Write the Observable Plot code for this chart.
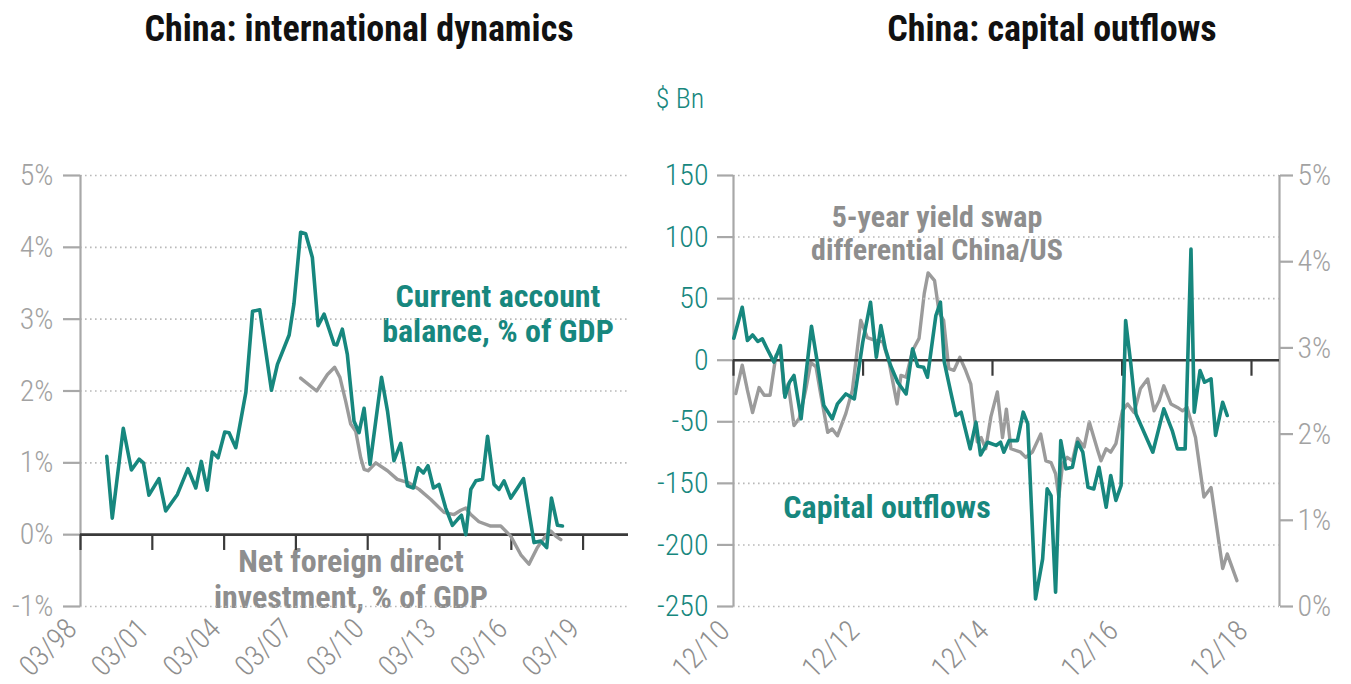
<!DOCTYPE html>
<html>
<head>
<meta charset="utf-8">
<script src="https://cdn.jsdelivr.net/npm/d3@7"></script>
<script src="https://cdn.jsdelivr.net/npm/@observablehq/plot@0.6"></script>
<style>
  html, body { margin: 0; padding: 0; background: #fff; }
  #root { position: relative; width: 1351px; height: 684px; overflow: hidden; background: #fff;
          font-family: "Roboto Condensed", Roboto, sans-serif; font-stretch: condensed; }
  .abs { position: absolute; white-space: nowrap; }
  .title { font-weight: bold; font-size: 36px; color: #111; line-height: 1; transform: translateX(-50%); }
  .ann { font-weight: bold; font-size: 32px; text-align: center; transform: translateX(-50%); }
  .teal { color: #17877e; }
  .gray { color: #8e8e8e; }
  svg { position: absolute; }
</style>
</head>
<body>
<div id="root">
  <div class="abs title" style="left:359px; top:11px;">China: international dynamics</div>
  <div class="abs title" style="left:1052px; top:11px;">China: capital outflows</div>
  <div class="abs teal" style="left:680px; top:85px; font-size:28px; font-weight:300; transform:translateX(-50%); line-height:1;">$ Bn</div>
  <div class="abs ann teal" style="left:498px; top:279px; line-height:35px;">Current account<br>balance, % of GDP</div>
  <div class="abs ann gray" style="left:351px; top:543px; line-height:36px;">Net foreign direct<br>investment, % of GDP</div>
  <div class="abs ann gray" style="left:937px; top:200px; line-height:33px; font-size:30px;">5-year yield swap<br>differential China/US</div>
  <div class="abs ann teal" style="left:887px; top:489px; line-height:36px;">Capital outflows</div>
</div>
<script>
// ---------- data ----------
// Left chart: current account balance, % of GDP (decimal year, value)
const caYears = [1999.26,1999.49,1999.95,2000.29,2000.61,2000.79,2001.02,2001.44,2001.72,2002.21,
  2002.65,2002.98,2003.21,2003.46,2003.67,2003.91,2004.19,2004.37,2004.65,2005.07,
  2005.35,2005.65,2006.14,2006.39,2006.88,2007.08,2007.36,2007.57,2007.85,2008.09,
  2008.34,2008.76,2008.87,2009.10,2009.31,2009.59,2009.80,2010.01,2010.26,2010.74,
  2010.99,2011.26,2011.54,2011.82,2012.07,2012.27,2012.49,2012.68,2012.91,2013.14,
  2013.42,2013.70,2013.91,2014.08,2014.26,2014.47,2014.68,2014.96,2015.17,2015.44,
  2015.65,2015.86,2016.14,2016.42,2016.67,2017.11,2017.39,2017.64,2017.84,2018.09,2018.30];
const caValues = [1.09,0.23,1.48,0.90,1.05,1.00,0.55,0.78,0.33,0.56,
  0.92,0.65,1.02,0.62,1.15,1.07,1.43,1.42,1.21,1.98,
  3.11,3.13,2.01,2.37,2.78,3.21,4.21,4.19,3.86,2.91,
  3.07,2.65,2.64,2.86,2.51,1.58,1.42,1.76,0.98,2.19,
  1.72,1.03,1.27,0.68,0.65,0.93,0.86,0.96,0.65,0.70,
  0.37,0.13,0.21,0.27,0.00,0.63,0.75,0.77,1.37,0.70,
  0.63,0.75,0.51,0.65,0.78,-0.11,-0.09,-0.18,0.51,0.13,0.12];
// Left chart: net foreign direct investment, % of GDP
const fdiYears = [2007.36,2008.03,2008.48,2008.78,2009.00,2009.24,2009.45,2009.66,2009.87,2010.01,
  2010.18,2010.50,2010.99,2011.40,2011.89,2012.31,2012.80,2013.35,2013.77,2014.05,
  2014.26,2014.47,2014.81,2015.30,2015.72,2016.14,2016.56,2016.90,2017.25,2017.60,
  2017.81,2018.02,2018.23];
const fdiValues = [2.18,2.00,2.23,2.33,2.19,1.86,1.54,1.44,1.07,0.91,
  0.89,1.00,0.89,0.77,0.72,0.63,0.49,0.31,0.28,0.34,
  0.37,0.28,0.18,0.12,0.12,-0.02,-0.28,-0.41,-0.18,-0.02,
  0.05,-0.02,-0.07];
// Right chart: capital outflows, $ Bn
const coYears = [2010.92,2011.05,2011.13,2011.21,2011.29,2011.36,2011.44,2011.54,2011.64,2011.71,
  2011.78,2011.85,2011.96,2012.03,2012.12,2012.21,2012.31,2012.44,2012.52,2012.65,
  2012.78,2012.91,2013.03,2013.12,2013.19,2013.26,2013.34,2013.45,2013.58,2013.68,
  2013.76,2013.85,2013.91,2014.04,2014.11,2014.17,2014.27,2014.35,2014.43,2014.57,
  2014.66,2014.73,2014.84,2014.97,2015.04,2015.09,2015.17,2015.30,2015.39,2015.46,
  2015.58,2015.69,2015.76,2015.82,2015.89,2015.97,2016.05,2016.15,2016.23,2016.31,
  2016.39,2016.48,2016.56,2016.67,2016.74,2016.82,2016.90,2016.97,2017.05,2017.13,
  2017.39,2017.56,2017.69,2017.77,2017.89,2017.98,2018.03,2018.12,2018.19,2018.29,
  2018.36,2018.47,2018.54];
const coValues = [17.9,43.0,16.0,20.5,15.2,17.3,8.7,-1.6,11.9,-30,
  -17.9,-12.4,-47.6,-13.8,27.6,-1.6,-36.8,-47.6,-35.5,-27.4,
  -31.4,14.6,47.1,2.4,28.2,9.2,-4.3,-17.9,-27.4,9.2,
  -4.9,-5.7,-13.8,36.3,47.1,-1.6,-26,-44.9,-42.2,-72,
  -50.3,-77,-66.6,-69.2,-66.6,-74.7,-65.3,-65.3,-42.2,-51.7,
  -193.8,-161.3,-104.5,-109.9,-188.3,-65.3,-88.2,-86.9,-66.6,-74.7,
  -103.1,-104.5,-86.9,-119.3,-93.6,-113.9,-101.7,32.2,-3.0,-43.6,
  -74.7,-39.5,-57.1,-72,-72,90.3,-42.2,-8.4,-17.9,-15.2,
  -61.1,-34.1,-44.9];
// Right chart: 5-year yield swap differential China/US, %
const ydYears = [2010.95,2011.05,2011.13,2011.21,2011.31,2011.39,2011.48,2011.57,2011.64,2011.70,
  2011.76,2011.85,2011.93,2012.03,2012.11,2012.19,2012.26,2012.37,2012.44,2012.52,
  2012.65,2012.75,2012.88,2012.98,2013.09,2013.22,2013.32,2013.44,2013.50,2013.58,
  2013.68,2013.78,2013.86,2013.92,2014.02,2014.09,2014.16,2014.24,2014.32,2014.41,
  2014.50,2014.58,2014.68,2014.74,2014.81,2014.89,2014.99,2015.07,2015.13,2015.20,
  2015.35,2015.43,2015.53,2015.66,2015.74,2015.82,2015.89,2015.94,2016.00,2016.07,
  2016.15,2016.23,2016.33,2016.41,2016.54,2016.59,2016.67,2016.74,2016.82,2016.92,
  2017.00,2017.10,2017.20,2017.31,2017.41,2017.49,2017.56,2017.67,2017.77,2017.85,
  2017.92,2018.05,2018.18,2018.29,2018.47,2018.54,2018.69];
const ydValues = [2.47,2.80,2.51,2.25,2.54,2.45,2.45,2.91,2.97,2.47,
  2.58,2.10,2.18,2.51,2.83,2.78,2.47,2.02,2.06,1.98,
  2.24,2.51,3.32,3.12,3.09,3.07,2.82,2.35,2.68,2.66,
  2.97,3.11,3.63,3.87,3.78,3.41,3.32,2.76,2.74,2.89,
  2.74,2.58,1.91,1.96,1.83,2.20,2.49,1.96,2.29,1.83,
  1.79,1.73,1.79,2.00,1.69,1.67,1.54,1.27,1.66,1.73,
  1.69,1.95,1.85,2.14,1.81,1.69,1.83,1.79,1.89,2.27,
  2.35,2.25,2.53,2.64,2.27,2.39,2.56,2.35,2.31,2.27,
  2.31,1.96,1.27,1.38,0.44,0.61,0.30];

// axes / ticks
const leftTickYears = [1998, 2001, 2004, 2007, 2010, 2013, 2016, 2019];
const leftTickLabels = ["03/98", "03/01", "03/04", "03/07", "03/10", "03/13", "03/16", "03/19"];
const leftYTicks = [5, 4, 3, 2, 1, 0, -1];
const leftYLabels = ["5%", "4%", "3%", "2%", "1%", "0%", "-1%"];
const rightTickYears = [2010, 2012, 2014, 2016, 2018];
const rightTickLabels = ["12/10", "12/12", "12/14", "12/16", "12/18"];
const coYTicks = [150, 100, 50, 0, -50, -100, -150, -200];
const coYLabels = ["150", "100", "50", "0", "-50", "-150", "-200", "-250"]; // as printed on the chart
const ydYTicks = [5, 4, 3, 2, 1, 0];
const ydYLabels = ["5%", "4%", "3%", "2%", "1%", "0%"];

// ---------- helpers ----------
const TEAL = "#17877e", GRAY = "#9b9b9b", DARK = "#3a3a3a", AXIS = "#a8a8a8", GRID = "#b9b9b9";
const toDate = y => { const yr = Math.floor(y); const a = Date.UTC(yr, 0, 1), b = Date.UTC(yr + 1, 0, 1); return new Date(a + (y - yr) * (b - a)); };
const series = (ys, vs) => ys.map((y, i) => ({date: toDate(y), value: vs[i]}));
const ca = series(caYears, caValues), fdi = series(fdiYears, fdiValues);
const co = series(coYears, coValues), yd = series(ydYears, ydValues);
const leftTicks = leftTickYears.map((y, i) => ({date: new Date(Date.UTC(y, 2, 1)), label: leftTickLabels[i]}));
const rightTicks = rightTickYears.map((y, i) => ({date: new Date(Date.UTC(y, 11, 1)), label: rightTickLabels[i]}));
const fmt = (ticks, labels) => d => labels[ticks.indexOf(d)];
const STYLE = {background: "transparent", fontFamily: '"Roboto Condensed", Roboto, sans-serif', fontStretch: "condensed", fontWeight: 300, overflow: "visible"};

const H = 534, MT = 25, MB = 78;
const root = document.getElementById("root");

// ---------- left chart ----------
const leftDomain = [new Date(Date.UTC(1998, 2, 1)), new Date(Date.UTC(2021, 0, 22))];
const left = Plot.plot({
  width: 640, height: H, marginLeft: 80, marginRight: 12, marginTop: MT, marginBottom: MB,
  style: STYLE,
  x: {type: "utc", domain: leftDomain, axis: null},
  y: {domain: [-1, 5], axis: null},
  marks: [
    Plot.ruleY(leftYTicks.filter(d => d !== 0), {stroke: GRID, strokeWidth: 1.6, strokeDasharray: "1.6 3.4"}),
    Plot.ruleX([leftDomain[0]], {stroke: AXIS, strokeWidth: 2.2}),
    Plot.axisY({ticks: leftYTicks, tickFormat: fmt(leftYTicks, leftYLabels), tickSize: 17, tickPadding: 10,
      stroke: AXIS, strokeWidth: 2.2, fill: "#a2a2a2", fontSize: 30, label: null}),
    Plot.ruleY([0], {stroke: DARK, strokeWidth: 2.6}),
    Plot.ruleX(leftTicks, {x: "date", y1: 0, y2: -0.22, stroke: DARK, strokeWidth: 2.2}),
    Plot.text(leftTicks, {x: "date", frameAnchor: "bottom", text: "label", rotate: -45, textAnchor: "end",
      dx: -2, dy: 24, fontSize: 29, fill: "#8e8e8e"}),
    Plot.line(fdi, {x: "date", y: "value", stroke: GRAY, strokeWidth: 3.4}),
    Plot.line(ca, {x: "date", y: "value", stroke: TEAL, strokeWidth: 3.6})
  ]
});
left.style.left = "0px"; left.style.top = "150px";
root.appendChild(left);

// ---------- right chart ----------
const rightDomain = [new Date(Date.UTC(2010, 11, 1)), new Date(Date.UTC(2019, 4, 8))];
const rightCommon = {width: 711, height: H, marginLeft: 93, marginRight: 72, marginTop: MT, marginBottom: MB};

const rightB = Plot.plot({
  ...rightCommon,
  style: STYLE,
  x: {type: "utc", domain: rightDomain, axis: null},
  y: {domain: [0, 5], axis: null},
  marks: [
    Plot.ruleX([rightDomain[1]], {stroke: AXIS, strokeWidth: 2.2}),
    Plot.axisY({anchor: "right", ticks: ydYTicks, tickFormat: fmt(ydYTicks, ydYLabels), tickSize: 13, tickPadding: 5,
      stroke: AXIS, strokeWidth: 2.2, fill: "#a2a2a2", fontSize: 30, label: null}),
    Plot.line(yd, {x: "date", y: "value", stroke: GRAY, strokeWidth: 3.4})
  ]
});
rightB.style.left = "640px"; rightB.style.top = "150px";
root.appendChild(rightB);

const rightA = Plot.plot({
  ...rightCommon,
  style: STYLE,
  x: {type: "utc", domain: rightDomain, axis: null},
  y: {domain: [-200, 150], axis: null},
  marks: [
    Plot.ruleY(coYTicks.filter(d => d !== 0), {stroke: GRID, strokeWidth: 1.6, strokeDasharray: "1.6 3.4"}),
    Plot.ruleX([rightDomain[0]], {stroke: AXIS, strokeWidth: 2.2}),
    Plot.axisY({ticks: coYTicks, tickFormat: fmt(coYTicks, coYLabels), tickSize: 16, tickPadding: 9,
      stroke: AXIS, strokeWidth: 2.2, fill: TEAL, fontSize: 30, label: null}),
    Plot.ruleY([0], {stroke: DARK, strokeWidth: 2.6}),
    Plot.ruleX(rightTicks, {x: "date", y1: 0, y2: -13, stroke: DARK, strokeWidth: 2.2}),
    Plot.text(rightTicks, {x: "date", frameAnchor: "bottom", text: "label", rotate: -45, textAnchor: "end",
      dx: -2, dy: 26, fontSize: 29, fill: "#8e8e8e"}),
    Plot.line(co, {x: "date", y: "value", stroke: TEAL, strokeWidth: 3.6})
  ]
});
rightA.style.left = "640px"; rightA.style.top = "150px";
root.appendChild(rightA);
</script>
</body>
</html>
